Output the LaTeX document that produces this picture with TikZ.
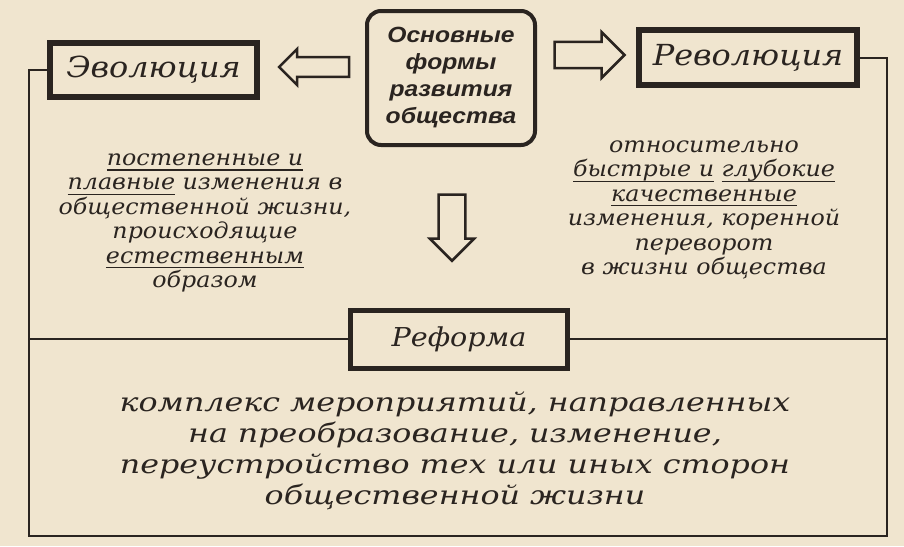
\documentclass[tikz,border=0pt]{standalone}
\usepackage{fontspec}
\usetikzlibrary{shapes.arrows}
\newfontfamily\descfont[FakeStretch=1.08]{DejaVu Serif}
\newfontfamily\reffont[FakeStretch=1.22]{DejaVu Serif}
\newfontfamily\titlefont[FakeStretch=1.1]{DejaVu Serif}
\newfontfamily\headfont[FakeStretch=1.12]{Liberation Sans}
\definecolor{paper}{HTML}{F0E5CF}
\definecolor{ink}{HTML}{2A2420}
\newcommand{\myul}[1]{\setbox0\hbox{#1}\rlap{\rule[-5pt]{\wd0}{1.3pt}}\box0\relax}
\tikzset{
  titlebox/.style={draw=ink, line width=6pt, rectangle, inner sep=0pt, text=ink,
    font=\titlefont\itshape\fontsize{29}{34}\selectfont},
  mainbox/.style={draw=ink, line width=4pt, rectangle, rounded corners=14pt, inner sep=0pt,
    text=ink, align=center, minimum width=168pt, minimum height=134pt,
    font=\headfont\bfseries\itshape\fontsize{22}{27}\selectfont},
  desc/.style={align=center, text=ink, inner sep=0pt,
    font=\descfont\itshape\fontsize{22}{24.4}\selectfont},
  reftext/.style={align=center, text=ink, inner sep=0pt,
    font=\reffont\itshape\fontsize{26}{31}\selectfont},
  blockarrow/.style={single arrow, draw=ink, line width=2.5pt, fill=paper},
  frameline/.style={draw=ink, line width=2pt}
}
\begin{document}
\begin{tikzpicture}[x=1pt,y=-1pt]
\useasboundingbox (0,0) rectangle (904,546);
\fill[paper] (0,0) rectangle (904,546);

% boxes
\node[mainbox] (main) at (451,78) {Основные\\формы\\развития\\общества};
\node[titlebox, minimum width=207pt, minimum height=54pt] (evo) at (153.5,70) {Эволюция};
\node[titlebox, minimum width=218pt, minimum height=55pt] (rev) at (748,57.5) {Революция};
\node[titlebox, line width=5pt, minimum width=217pt, minimum height=58pt,
      font=\titlefont\itshape\fontsize{26}{30}\selectfont] (ref) at (459,339) {Реформа};

% block arrows
\node[blockarrow, shape border rotate=180, minimum height=70pt, minimum width=36pt,
      inner sep=7.5pt] (larr) at (319,67) {};
\node[blockarrow, minimum height=70pt, minimum width=46pt,
      inner sep=8pt] (rarr) at (583,55) {};
\node[blockarrow, shape border rotate=270, minimum height=66pt, minimum width=44pt,
      inner sep=10pt] (darr) at (452,221) {};

% frame
\coordinate (bl) at (29,536);
\coordinate (br) at (887,536);
\coordinate (ml) at (29,339);
\coordinate (mr) at (887,339);
\draw[frameline] (evo.west) -| (bl) -- (br) |- (rev.east);
\draw[frameline] (ml) -- (ref.west);
\draw[frameline] (ref.east) -- (mr);

% texts
\node[desc] (evotext) at (205,223) {\myul{постепенные и}\\\myul{плавные} изменения в\\общественной жизни,\\происходящие\\\myul{естественным}\\образом};
\node[desc] (revtext) at (704,210) {относительно\\\myul{быстрые и} \myul{глубокие}\\\myul{качественные}\\изменения, коренной\\переворот\\в жизни общества};
\node[reftext] (reftextnode) at (455,451) {комплекс мероприятий, направленных\\на преобразование, изменение,\\переустройство тех или иных сторон\\общественной жизни};
\end{tikzpicture}
\end{document}
